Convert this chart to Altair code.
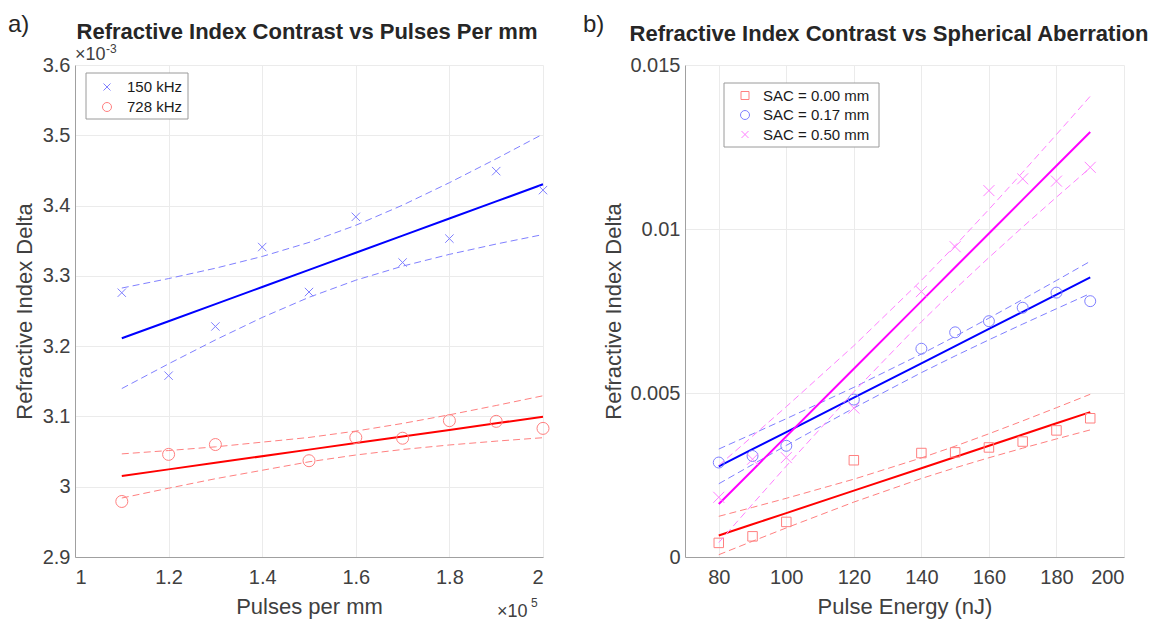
import altair as alt
import numpy as np
import pandas as pd

FONT = "Liberation Sans"

# ---------------- Panel a data (x in 1e5 pulses/mm, y in 1e-3) ----------------
pulses_150 = [1.1, 1.2, 1.3, 1.4, 1.5, 1.6, 1.7, 1.8, 1.9, 2.0]
delta_150 = [3.276, 3.158, 3.228, 3.341, 3.277, 3.384, 3.319, 3.353, 3.449, 3.422]
pulses_728 = [1.1, 1.2, 1.3, 1.5, 1.6, 1.7, 1.8, 1.9, 2.0]
delta_728 = [2.979, 3.046, 3.060, 3.037, 3.070, 3.069, 3.094, 3.093, 3.083]
series_a = ["150 kHz", "728 kHz"]

# ---------------- Panel b data ----------------
energy = [80, 90, 100, 120, 140, 150, 160, 170, 180, 190]
sac_000 = [0.00043, 0.00063, 0.00107, 0.00295, 0.00317, 0.00319, 0.00334, 0.00352, 0.00386, 0.00423]
sac_017 = [0.00288, 0.00308, 0.00339, 0.00480, 0.00635, 0.00685, 0.00719, 0.00760, 0.00806, 0.00780]
sac_050 = [0.00182, 0.00298, 0.00303, 0.00454, 0.00809, 0.00946, 0.01117, 0.01153, 0.01146, 0.01188]
series_b = ["SAC = 0.00 mm", "SAC = 0.17 mm", "SAC = 0.50 mm"]

# ticks
xticks_a = [1, 1.2, 1.4, 1.6, 1.8, 2]
yticks_a = [2.9, 3.0, 3.1, 3.2, 3.3, 3.4, 3.5, 3.6]
xticks_b = [80, 100, 120, 140, 160, 180, 200]
yticks_b = [0, 0.005, 0.01, 0.015]

# student t (95%, two-sided) by degrees of freedom
T95 = {7: 2.365, 8: 2.306}

CROSS = "M-1,-1L1,1M-1,1L1,-1"
LIGHT = {"blue": "#8080ff", "red": "#ff8080", "magenta": "#ff80ff"}
SOLID = {"blue": "#0000ff", "red": "#ff0000", "magenta": "#ff00ff"}
SHAPES = {"cross": CROSS, "circle": "circle", "square": "square"}
LEG_SIZE = {"cross": 49, "circle": 81, "square": 64}


def label(text, px, py, size, bold=False, align="left", baseline="alphabetic", color="#262626"):
    return alt.Chart(pd.DataFrame({"t": [text]})).mark_text(
        align=align, baseline=baseline, fontSize=size, font=FONT,
        fontWeight="bold" if bold else "normal", color=color,
    ).encode(x=alt.value(px), y=alt.value(py), text="t:N")


def series_layers(xs, ys, name, cname, marker, msize, xenc, yenc):
    x = np.asarray(xs, float)
    y = np.asarray(ys, float)
    n = len(x)
    slope, icpt = np.polyfit(x, y, 1)
    yhat = icpt + slope * x
    s = np.sqrt(np.sum((y - yhat) ** 2) / (n - 2))
    sxx = np.sum((x - x.mean()) ** 2)
    hw = T95[n - 2] * s * np.sqrt(1.0 / n + (x - x.mean()) ** 2 / sxx)
    fit = pd.DataFrame({"x": x, "y": yhat})
    band = pd.concat([
        pd.DataFrame({"x": x, "y": yhat + hw, "key": "hi"}),
        pd.DataFrame({"x": x, "y": yhat - hw, "key": "lo"}),
    ])
    pts = pd.DataFrame({"x": x, "y": y, "series": name})
    band_l = alt.Chart(band).mark_line(strokeDash=[7, 4], strokeWidth=1, color=LIGHT[cname]).encode(
        x=xenc, y=yenc, detail="key:N")
    fit_l = alt.Chart(fit).mark_line(strokeWidth=2, color=SOLID[cname]).encode(x=xenc, y=yenc)
    pt_l = alt.Chart(pts).mark_point(filled=False, strokeWidth=1, opacity=1, shape=SHAPES[marker],
                                     size=msize, stroke=LIGHT[cname], fill="transparent").encode(
        x=xenc, y=yenc)
    return [band_l, fit_l, pt_l]


def legend_layers(names, cnames, markers, bx, by, bw, row_ys, sym_dx, txt_dx, bh):
    box = alt.Chart(pd.DataFrame({"k": [0]})).mark_rect(
        fill="white", stroke="#9a9a9a", strokeWidth=1).encode(
        x=alt.value(bx), x2=alt.value(bx + bw), y=alt.value(by), y2=alt.value(by + bh))
    out = [box]
    for nm, cn, mk, ry in zip(names, cnames, markers, row_ys):
        out.append(alt.Chart(pd.DataFrame({"k": [nm]})).mark_point(
            filled=False, strokeWidth=1, opacity=1, shape=SHAPES[mk], size=LEG_SIZE[mk],
            stroke=LIGHT[cn], fill="transparent").encode(x=alt.value(bx + sym_dx), y=alt.value(by + ry)))
        out.append(label(nm, bx + txt_dx, by + ry, 15, baseline="middle", color="#1a1a1a"))
    return out


WA, HA = 468, 492
WB, HB = 439, 492
LBL = "format(datum.value, '.4~g')"

# ---------- panel a ----------
xa = alt.X("x:Q", scale=alt.Scale(domain=[1, 2], nice=False, zero=False),
           axis=alt.Axis(values=xticks_a, labelExpr=LBL, title="Pulses per mm", labelPadding=10,
                         titleX=WA / 2, titleY=56, titleBaseline="alphabetic", titleAlign="center"))
ya = alt.Y("y:Q", scale=alt.Scale(domain=[2.9, 3.6], nice=False, zero=False),
           axis=alt.Axis(values=yticks_a, labelExpr=LBL, title="Refractive Index Delta", labelPadding=5,
                         titleX=-51, titleY=HA / 2, titleAngle=-90, titleAlign="center",
                         titleBaseline="middle"))
layers_a = (series_layers(pulses_150, delta_150, series_a[0], "blue", "cross", 70, xa, ya)
            + series_layers(pulses_728, delta_728, series_a[1], "red", "circle", 144, xa, ya)
            + legend_layers(series_a, ["blue", "red"], ["cross", "circle"], 11, 8, 102,
                            [14, 34], 21, 41, 46)
            + [label("a)", -67, -33, 24),
               label("Refractive Index Contrast vs Pulses Per mm", 232, -26, 22, bold=True, align="center"),
               label("\u00d710", 0, -5, 18, color="#404040"),
               label("-3", 31, -12, 12, color="#404040"),
               label("\u00d710", 422, HA + 60, 18, color="#404040"),
               label("5", 456, HA + 50, 12, color="#404040")])
pa = alt.layer(*layers_a).properties(width=WA, height=HA)

# ---------- panel b ----------
xb = alt.X("x:Q", scale=alt.Scale(domain=[70, 200], nice=False, zero=False),
           axis=alt.Axis(values=xticks_b, labelExpr=LBL, title="Pulse Energy (nJ)", labelPadding=10,
                         titleX=WB / 2, titleY=56, titleBaseline="alphabetic", titleAlign="center"))
yb = alt.Y("y:Q", scale=alt.Scale(domain=[0, 0.015], nice=False, zero=False),
           axis=alt.Axis(values=yticks_b, labelExpr=LBL, title="Refractive Index Delta", labelPadding=5,
                         titleX=-72, titleY=HB / 2, titleAngle=-90, titleAlign="center",
                         titleBaseline="middle"))
layers_b = (series_layers(energy, sac_000, series_b[0], "red", "square", 90, xb, yb)
            + series_layers(energy, sac_017, series_b[1], "blue", "circle", 120, xb, yb)
            + series_layers(energy, sac_050, series_b[2], "magenta", "cross", 121, xb, yb)
            + legend_layers(series_b, ["red", "blue", "magenta"], ["square", "circle", "cross"],
                            39, 18, 155, [12.5, 32, 51.5], 21, 39, 64)
            + [label("b)", -102, -33, 24),
               label("Refractive Index Contrast vs Spherical Aberration", 204, -24, 22, bold=True,
                     align="center")])
pb = alt.layer(*layers_b).properties(width=WB, height=HB)

chart = alt.hconcat(pa, pb, spacing=32).properties(
    padding={"left": 0, "top": 5, "right": 0, "bottom": 0}
).configure_view(stroke=None).configure_axis(
    domainColor="#a0a0a0", domainWidth=1, gridColor="#ebebeb", gridWidth=1,
    ticks=False, labelFont=FONT, titleFont=FONT, labelFontSize=20, titleFontSize=22,
    titleFontWeight="normal", labelColor="#404040", titleColor="#404040",
)

chart.save("out.html", embed_options={"renderer": "svg", "actions": False})
